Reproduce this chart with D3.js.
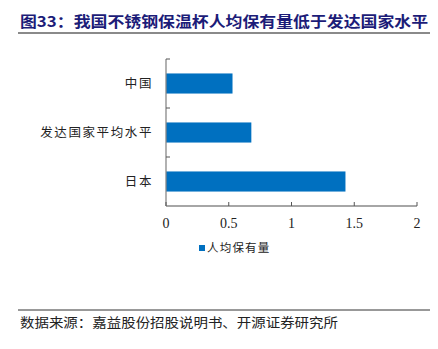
<!DOCTYPE html>
<html>
<head>
<meta charset="utf-8">
<script src="https://cdn.jsdelivr.net/npm/d3@7"></script>
<style>
  body { margin: 0; background: #fff; }
</style>
</head>
<body>
<div id="chart"></div>
<script>
const categories = ["中国", "发达国家平均水平", "日本"]
const values = [0.53, 0.68, 1.43]
const xTicks = [0, 0.5, 1, 1.5, 2]
const seriesName = "人均保有量"
const titleText = "图33：我国不锈钢保温杯人均保有量低于发达国家水平"
const sourceText = "数据来源：嘉益股份招股说明书、开源证券研究所"

const W = 438, H = 349
const cjk = "'Noto Sans CJK SC', sans-serif"
const serif = "'Liberation Serif', 'Times New Roman', serif"

const svg = d3.select("#chart").append("svg")
    .attr("width", W)
    .attr("height", H)

// title
svg.append("text")
    .attr("x", 20)
    .attr("y", 27)
    .attr("fill", "#1c1c78")
    .attr("font-family", cjk)
    .attr("font-weight", "bold")
    .attr("font-size", 15)
    .attr("textLength", 408)
    .attr("lengthAdjust", "spacingAndGlyphs")
    .text(titleText)

svg.append("line")
    .attr("x1", 18).attr("x2", 430)
    .attr("y1", 33).attr("y2", 33)
    .attr("stroke", "#8a8a8a")
    .attr("stroke-width", 2)

const x = d3.scaleLinear().domain([0, 2]).range([166, 417])
const y = d3.scaleBand().domain(categories).range([59, 206]).paddingInner(0.59).paddingOuter(0.295)
const yAxisBand = d3.scaleBand().domain(categories).range([59, 206])

// bars
svg.selectAll(".bar")
    .data(categories)
    .join("rect")
    .attr("class", "bar")
    .attr("x", x(0))
    .attr("y", d => y(d))
    .attr("width", (d, i) => x(values[i]) - x(0))
    .attr("height", y.bandwidth())
    .attr("fill", "#0070c0")

// y axis
svg.append("line")
    .attr("x1", x(0)).attr("x2", x(0))
    .attr("y1", 59).attr("y2", 206)
    .attr("stroke", "#888")
    .attr("stroke-width", 1.3)

const yTickPos = [59, ...categories.slice(1).map(c => yAxisBand(c))]
svg.selectAll(".ytick")
    .data(yTickPos)
    .join("line")
    .attr("class", "ytick")
    .attr("x1", x(0)).attr("x2", x(0) + 4)
    .attr("y1", d => d).attr("y2", d => d)
    .attr("stroke", "#555")

svg.selectAll(".ylabel")
    .data(categories)
    .join("text")
    .attr("class", "ylabel")
    .attr("x", 153)
    .attr("y", d => yAxisBand(d) + yAxisBand.bandwidth() / 2 + 4.5)
    .attr("text-anchor", "end")
    .attr("font-family", cjk)
    .attr("font-size", 12.5)
    .attr("letter-spacing", 1.6)
    .attr("fill", "#222")
    .text(d => d)

// x axis
svg.append("line")
    .attr("x1", x(0)).attr("x2", x(2))
    .attr("y1", 206).attr("y2", 206)
    .attr("stroke", "#888")
    .attr("stroke-width", 1.3)

svg.selectAll(".xtick")
    .data(xTicks)
    .join("line")
    .attr("class", "xtick")
    .attr("x1", d => x(d)).attr("x2", d => x(d))
    .attr("y1", 206).attr("y2", 202)
    .attr("stroke", "#555")

svg.selectAll(".xlabel")
    .data(xTicks)
    .join("text")
    .attr("class", "xlabel")
    .attr("x", d => x(d))
    .attr("y", 228)
    .attr("text-anchor", "middle")
    .attr("font-family", serif)
    .attr("font-size", 14)
    .attr("fill", "#222")
    .text(d => d)

// legend
svg.append("rect")
    .attr("x", 199).attr("y", 245)
    .attr("width", 6).attr("height", 6)
    .attr("fill", "#0070c0")

svg.append("text")
    .attr("x", 207)
    .attr("y", 252)
    .attr("font-family", cjk)
    .attr("font-size", 11.5)
    .attr("letter-spacing", 1.2)
    .attr("fill", "#222")
    .text(seriesName)

// source
svg.append("line")
    .attr("x1", 18).attr("x2", 430)
    .attr("y1", 310).attr("y2", 310)
    .attr("stroke", "#333")
    .attr("stroke-width", 1)

svg.append("text")
    .attr("x", 20)
    .attr("y", 327)
    .attr("font-family", cjk)
    .attr("font-size", 13)
    .attr("textLength", 318)
    .attr("lengthAdjust", "spacingAndGlyphs")
    .attr("fill", "#222")
    .text(sourceText)
</script>
</body>
</html>
